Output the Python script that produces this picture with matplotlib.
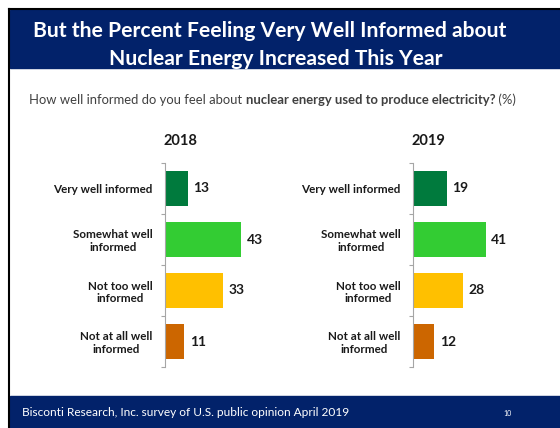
import matplotlib
matplotlib.use('Agg')
import matplotlib.pyplot as plt
from matplotlib.patches import Rectangle
from matplotlib.lines import Line2D

plt.rcParams['font.family'] = ['Lato', 'DejaVu Sans']

categories = ['Very well informed', 'Somewhat well\ninformed',
              'Not too well\ninformed', 'Not at all well\ninformed']
values_2018 = [13, 43, 33, 11]
values_2019 = [19, 41, 28, 12]
years = ['2018', '2019']
bar_colors = ['#007A3D', '#33CC33', '#FFC000', '#CC6600']

navy = '#02226A'
W, H = 560, 428

fig = plt.figure(figsize=(5.6, 4.28), dpi=100)
fig.patch.set_facecolor('white')


def fx(x):
    return x / W


def fy(y):
    return 1 - y / H


# slide frame, header and footer
fig.patches.append(Rectangle((fx(10), fy(68)), fx(550), (68 - 10) / H,
                             transform=fig.transFigure, color=navy, zorder=0))
fig.patches.append(Rectangle((fx(10), 0), fx(550), (428 - 396) / H,
                             transform=fig.transFigure, color=navy, zorder=0))
fig.lines.append(Line2D([fx(9), fx(9)], [0, fy(9)], transform=fig.transFigure,
                        color='black', lw=1.5))
fig.lines.append(Line2D([fx(9), 1], [fy(9), fy(9)], transform=fig.transFigure,
                        color='black', lw=1.5))

fig.text(fx(270), fy(37), 'But the Percent Feeling Very Well Informed about',
         color='white', fontsize=15.2, fontweight='bold', ha='center', va='baseline')
fig.text(fx(276), fy(65), 'Nuclear Energy Increased This Year',
         color='white', fontsize=15.2, fontweight='bold', ha='center', va='baseline')

# subtitle with a bold middle part
sub_parts = [('How well informed do you feel about ', 'normal'),
             ('nuclear energy used to produce electricity?', 'bold'),
             (' (%)', 'normal')]
xpos = fx(29)
for txt, wt in sub_parts:
    t = fig.text(xpos, fy(100), txt, color='#404040', fontsize=9.4,
                 fontweight=wt, ha='left', va='center')
    fig.canvas.draw()
    xpos = t.get_window_extent().x1 / (fig.dpi * 5.6)

fig.text(fx(22), fy(413), 'Bisconti Research, Inc. survey of U.S. public opinion April 2019',
         color='white', fontsize=8.6, ha='left', va='center')
fig.text(fx(508), fy(413), '10', color='white', fontsize=5, ha='center', va='center')

# the two bar charts
ax_lefts = [165, 413]
title_x = [180, 428]
for i, vals in enumerate([values_2018, values_2019]):
    ax = fig.add_axes([fx(ax_lefts[i]), fy(367), 88.5 / W, (367 - 163) / H])
    bars = ax.barh(range(len(categories)), vals, height=0.68, color=bar_colors)
    ax.set_xlim(0, 50)
    ax.set_ylim(3.5, -0.5)
    ax.set_yticks(range(len(categories)))
    ax.set_yticklabels(categories, fontsize=8.4, fontweight='bold', color='#1a1a1a')
    for lbl in ax.get_yticklabels():
        lbl.set_multialignment('center')
    ax.set_yticks([-0.5, 0.5, 1.5, 2.5, 3.5], minor=True)
    ax.tick_params(axis='y', which='major', length=0, pad=9)
    ax.tick_params(axis='y', which='minor', length=3, color='#A6A6A6', width=0.8)
    ax.set_xticks([])
    for s in ['top', 'right', 'bottom']:
        ax.spines[s].set_visible(False)
    ax.spines['left'].set_color('#A6A6A6')
    ax.spines['left'].set_linewidth(0.8)
    ax.bar_label(bars, padding=4, fontsize=10, fontweight='bold', color='#1a1a1a')
    fig.text(fx(title_x[i]), fy(141), years[i], fontsize=10.5, fontweight='bold',
             ha='center', va='center', color='#1a1a1a')

fig.savefig('out.png', dpi=100)
